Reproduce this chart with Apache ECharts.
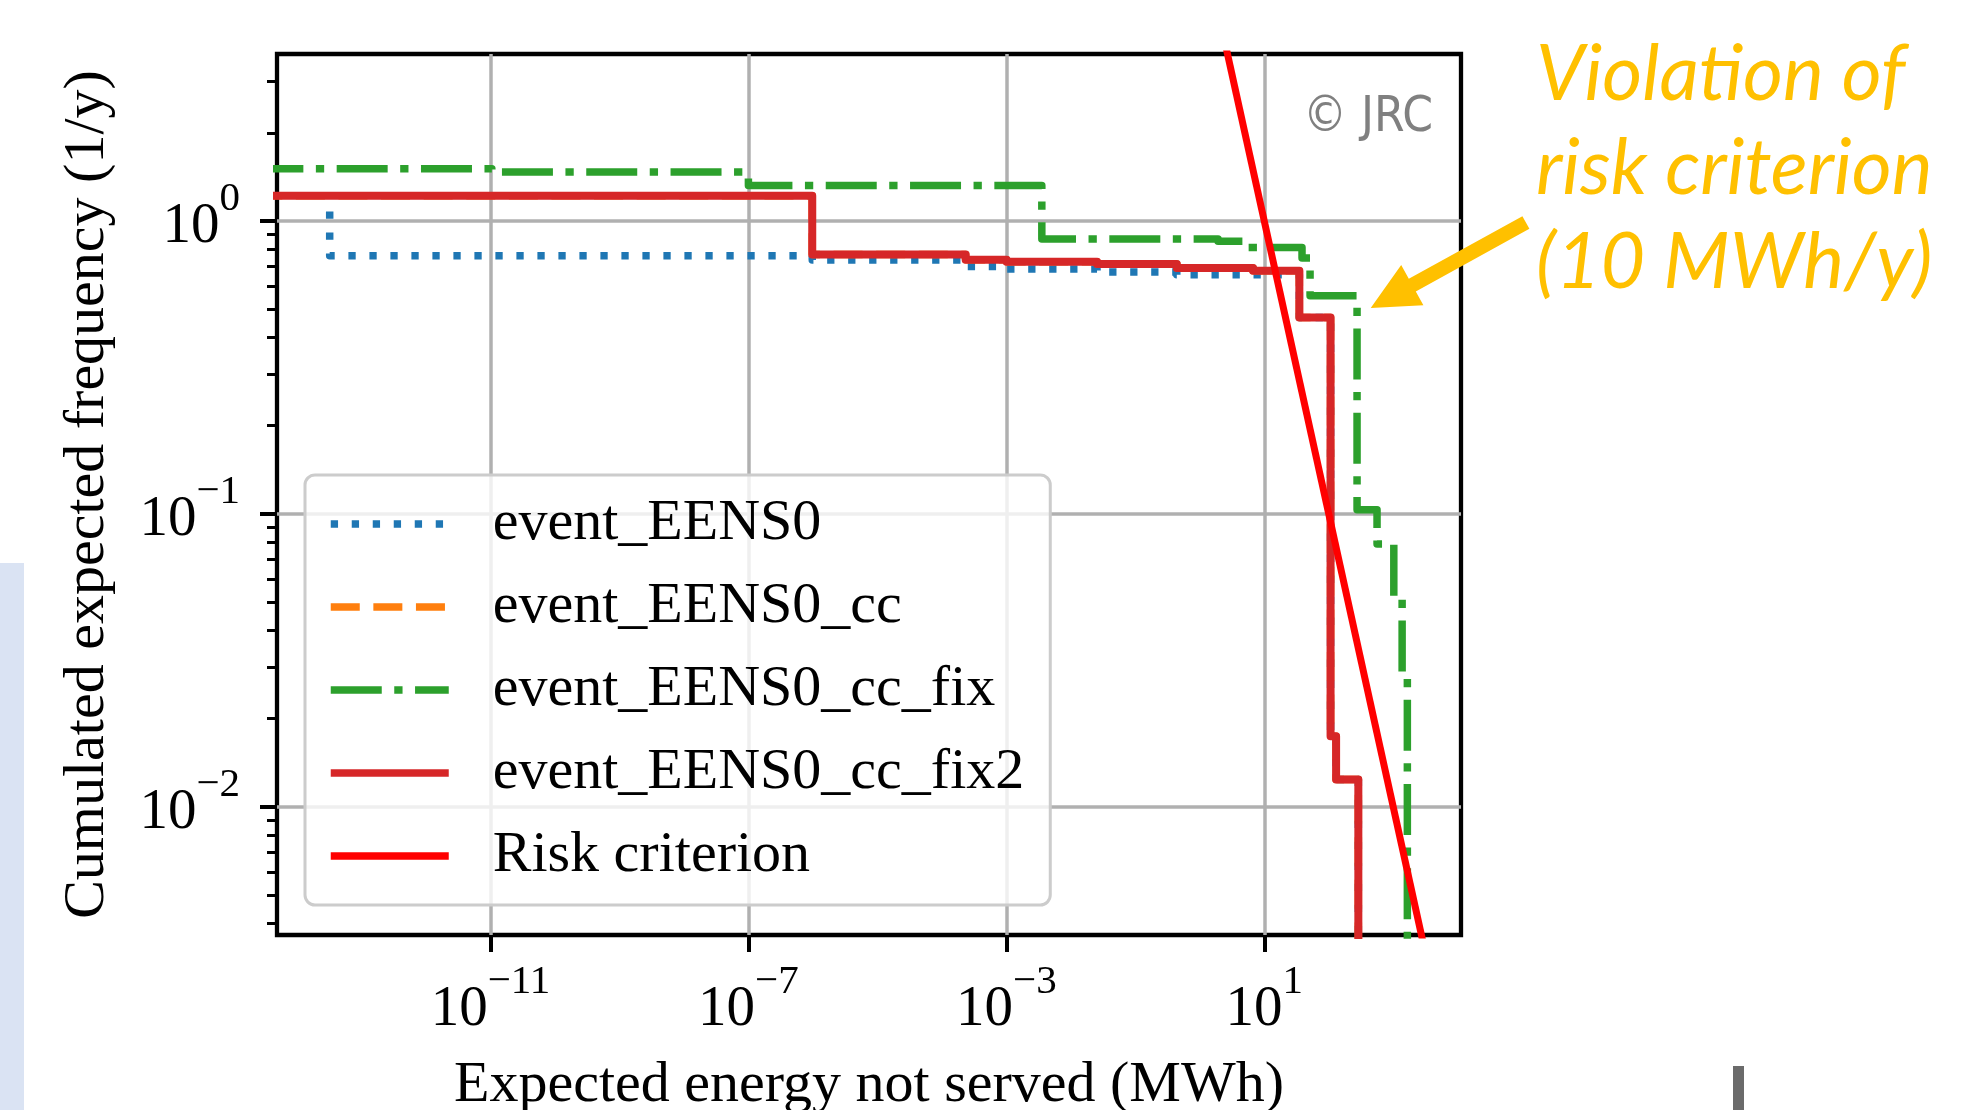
<!DOCTYPE html>
<html>
<head>
<meta charset="utf-8">
<script src="https://cdn.jsdelivr.net/npm/echarts@6/dist/echarts.min.js"></script>
<style>
html,body{margin:0;padding:0;background:#ffffff;}
#chart{width:1963px;height:1110px;}
</style>
</head>
<body>
<div id="chart"></div>
<script>
// ---- data (EENS in MWh, cumulated expected frequency in 1/y) ----
const seriesNames = ['event_EENS0', 'event_EENS0_cc', 'event_EENS0_cc_fix', 'event_EENS0_cc_fix2', 'Risk criterion'];

const eens0X = [3.21e-14, 3.21e-14, 9.77e-7, 2.34e-4, 1.01e-3, 2.55e-2, 0.44, 35.0, 106.7, 130, 287.7];
const eens0Y = [1.078, 0.761, 0.736, 0.700, 0.686, 0.670, 0.656, 0.468, 0.0174, 0.0124, 1e-4];

const eens0ccX = [1e-16, 9.77e-7, 2.34e-4, 1.01e-3, 2.55e-2, 0.44, 6.70, 35.0, 106.7, 130, 287.7];
const eens0ccY = [1.22, 0.769, 0.738, 0.726, 0.713, 0.691, 0.676, 0.468, 0.0174, 0.0124, 1e-4];

const eens0ccFixX = [1e-16, 1.05e-11, 1e-7, 3.55e-3, 1.92, 4.69, 38.5, 51.3, 274.8, 561, 1021, 1374, 1656];
const eens0ccFixY = [1.509, 1.470, 1.323, 0.868, 0.853, 0.812, 0.748, 0.556, 0.1034, 0.079, 0.0517, 0.0282, 1e-4];

const eens0ccFix2X = [1e-16, 9.77e-7, 2.34e-4, 1.01e-3, 2.55e-2, 0.44, 6.70, 35.0, 106.7, 130, 287.7];
const eens0ccFix2Y = [1.22, 0.769, 0.738, 0.726, 0.713, 0.691, 0.676, 0.468, 0.0174, 0.0124, 1e-4];

const riskX = [1, 1e4];
const riskY = [10, 1e-3];

const xTickValues = [1e-11, 1e-7, 1e-3, 1e1];
const yTickValues = [1e-2, 1e-1, 1e0];
const yMinorTickValues = [0.004, 0.005, 0.006, 0.007, 0.008, 0.009,
  0.02, 0.03, 0.04, 0.05, 0.06, 0.07, 0.08, 0.09,
  0.2, 0.3, 0.4, 0.5, 0.6, 0.7, 0.8, 0.9, 2, 3];
const xLimits = [4.89e-15, 11246];
const yLimits = [0.003651, 3.717];

// ---- helpers ----
const lg = v => Math.log10(v);
const toPts = (xs, ys) => xs.map((x, i) => [lg(x), lg(ys[i])]);
const SERIF = "'Liberation Serif', 'Times New Roman', serif";
const powLabel = v => {
  const e = Math.round(v);
  const s = e < 0 ? '\u2212' + Math.abs(e) : String(e);
  return '{b|10}{s|' + s + '}';
};
const labelRich = {
  b: {fontFamily: SERIF, fontSize: 57, lineHeight: 58, color: '#000', verticalAlign: 'bottom'},
  s: {fontFamily: SERIF, fontSize: 41, lineHeight: 41, color: '#000', verticalAlign: 'bottom', padding: [0, 0, 36, 0]}
};

const chart = echarts.init(document.getElementById('chart'), null, {renderer: 'canvas'});

const lineBase = {type: 'line', step: 'end', symbol: 'none', showSymbol: false, clip: true, animation: false, silent: true};

const option = {
  animation: false,
  backgroundColor: '#ffffff',
  grid: {left: 277, top: 54, width: 1184, height: 881, containLabel: false, outerBoundsMode: 'none',
    show: true, borderColor: '#000', borderWidth: 4.3, backgroundColor: 'transparent'},
  xAxis: {
    type: 'value', position: 'bottom', min: lg(xLimits[0]), max: lg(xLimits[1]),
    axisLine: {show: false, onZero: false},
    axisTick: {show: true, customValues: xTickValues.map(lg), length: 17, lineStyle: {color: '#000', width: 4}},
    axisLabel: {customValues: xTickValues.map(lg), formatter: powLabel, margin: 46, rich: labelRich},
    splitLine: {show: true, lineStyle: {color: '#b0b0b0', width: 3.5}},
    name: 'Expected energy not served (MWh)', nameLocation: 'middle', nameGap: 122,
    nameTextStyle: {fontFamily: SERIF, fontSize: 58, color: '#000'}
  },
  yAxis: [{
    type: 'value', position: 'left', min: lg(yLimits[0]), max: lg(yLimits[1]),
    axisLine: {show: false, onZero: false},
    axisTick: {show: true, customValues: yTickValues.map(lg), length: 17, lineStyle: {color: '#000', width: 4}},
    axisLabel: {customValues: yTickValues.map(lg), formatter: powLabel, margin: 37, padding: [12, 0, 0, 0], rich: labelRich},
    splitLine: {show: true, lineStyle: {color: '#b0b0b0', width: 3.5}},
    name: 'Cumulated expected frequency (1/y)', nameLocation: 'middle', nameGap: 160, nameRotate: 90,
    nameTextStyle: {fontFamily: SERIF, fontSize: 58, color: '#000'}
  }, {
    type: 'value', position: 'left', min: lg(yLimits[0]), max: lg(yLimits[1]),
    axisLine: {show: false, onZero: false},
    axisTick: {show: true, customValues: yMinorTickValues.map(lg), length: 10, lineStyle: {color: '#000', width: 3}},
    axisLabel: {show: false},
    splitLine: {show: false}
  }],
  legend: {
    orient: 'vertical', left: 305, top: 475,
    data: seriesNames,
    padding: [20, 26, 20, 22],
    itemWidth: 118, itemHeight: 14, itemGap: 25,
    selectedMode: false,
    backgroundColor: 'rgba(255,255,255,0.8)', borderColor: '#cccccc', borderWidth: 3, borderRadius: 10,
    itemStyle: {opacity: 0},
    lineStyle: {width: 7.5},
    textStyle: {fontFamily: SERIF, fontSize: 58, lineHeight: 58, color: '#000', padding: [0, 0, 0, 39]}
  },
  series: [
    Object.assign({}, lineBase, {name: seriesNames[0], data: toPts(eens0X, eens0Y),
      lineStyle: {color: '#1f77b4', width: 7.5, type: [7.3, 13.7], join: 'round'}, itemStyle: {color: '#1f77b4'}}),
    Object.assign({}, lineBase, {name: seriesNames[1], data: toPts(eens0ccX, eens0ccY),
      lineStyle: {color: '#ff7f0e', width: 7.5, type: [29, 13.6], join: 'round'}, itemStyle: {color: '#ff7f0e'}}),
    Object.assign({}, lineBase, {name: seriesNames[2], data: toPts(eens0ccFixX, eens0ccFixY),
      lineStyle: {color: '#2ca02c', width: 7.5, type: [51, 12.5, 8.3, 12.5], join: 'round'}, itemStyle: {color: '#2ca02c'}}),
    Object.assign({}, lineBase, {name: seriesNames[3], data: toPts(eens0ccFix2X, eens0ccFix2Y),
      lineStyle: {color: '#d62728', width: 8, type: 'solid', join: 'round'}, itemStyle: {color: '#d62728'}}),
    Object.assign({}, lineBase, {name: seriesNames[4], step: false, data: toPts(riskX, riskY),
      lineStyle: {color: '#ff0000', width: 7, type: 'solid'}, itemStyle: {color: '#ff0000'}})
  ],
  graphic: [
    {type: 'rect', shape: {x: 0, y: 563, width: 24, height: 547}, style: {fill: '#dae3f3'}, silent: true},
    {type: 'rect', shape: {x: 1733, y: 1066, width: 11, height: 44}, style: {fill: '#6b6b6b'}, silent: true},
    {type: 'text', x: 1303, y: 94, silent: true, z: 10,
      style: {text: '\u00a9 JRC', fontFamily: "'Liberation Sans Narrow', 'DejaVu Sans Condensed', 'Liberation Sans', sans-serif",
        fontSize: 49, lineHeight: 49, fill: '#808080', align: 'left', verticalAlign: 'top'}},
    {type: 'text', x: 1536, y: 28, silent: true, z: 10,
      style: {text: 'Violation of\nrisk criterion\n(10 MWh/y)', fontFamily: "Lato, 'Open Sans', sans-serif", fontStyle: 'italic',
        fontSize: 77, lineHeight: 94, fill: '#ffc000', align: 'left', verticalAlign: 'top'}},
    {type: 'polygon', silent: true, z: 10,
      shape: {points: [[1522.4, 216.2], [1408.8, 278.8], [1401.2, 265.0], [1370.7, 308.0], [1423.4, 305.2], [1415.8, 291.4], [1529.4, 228.8]]},
      style: {fill: '#ffc000'}}
  ]
};
chart.setOption(option);
</script>
</body>
</html>
